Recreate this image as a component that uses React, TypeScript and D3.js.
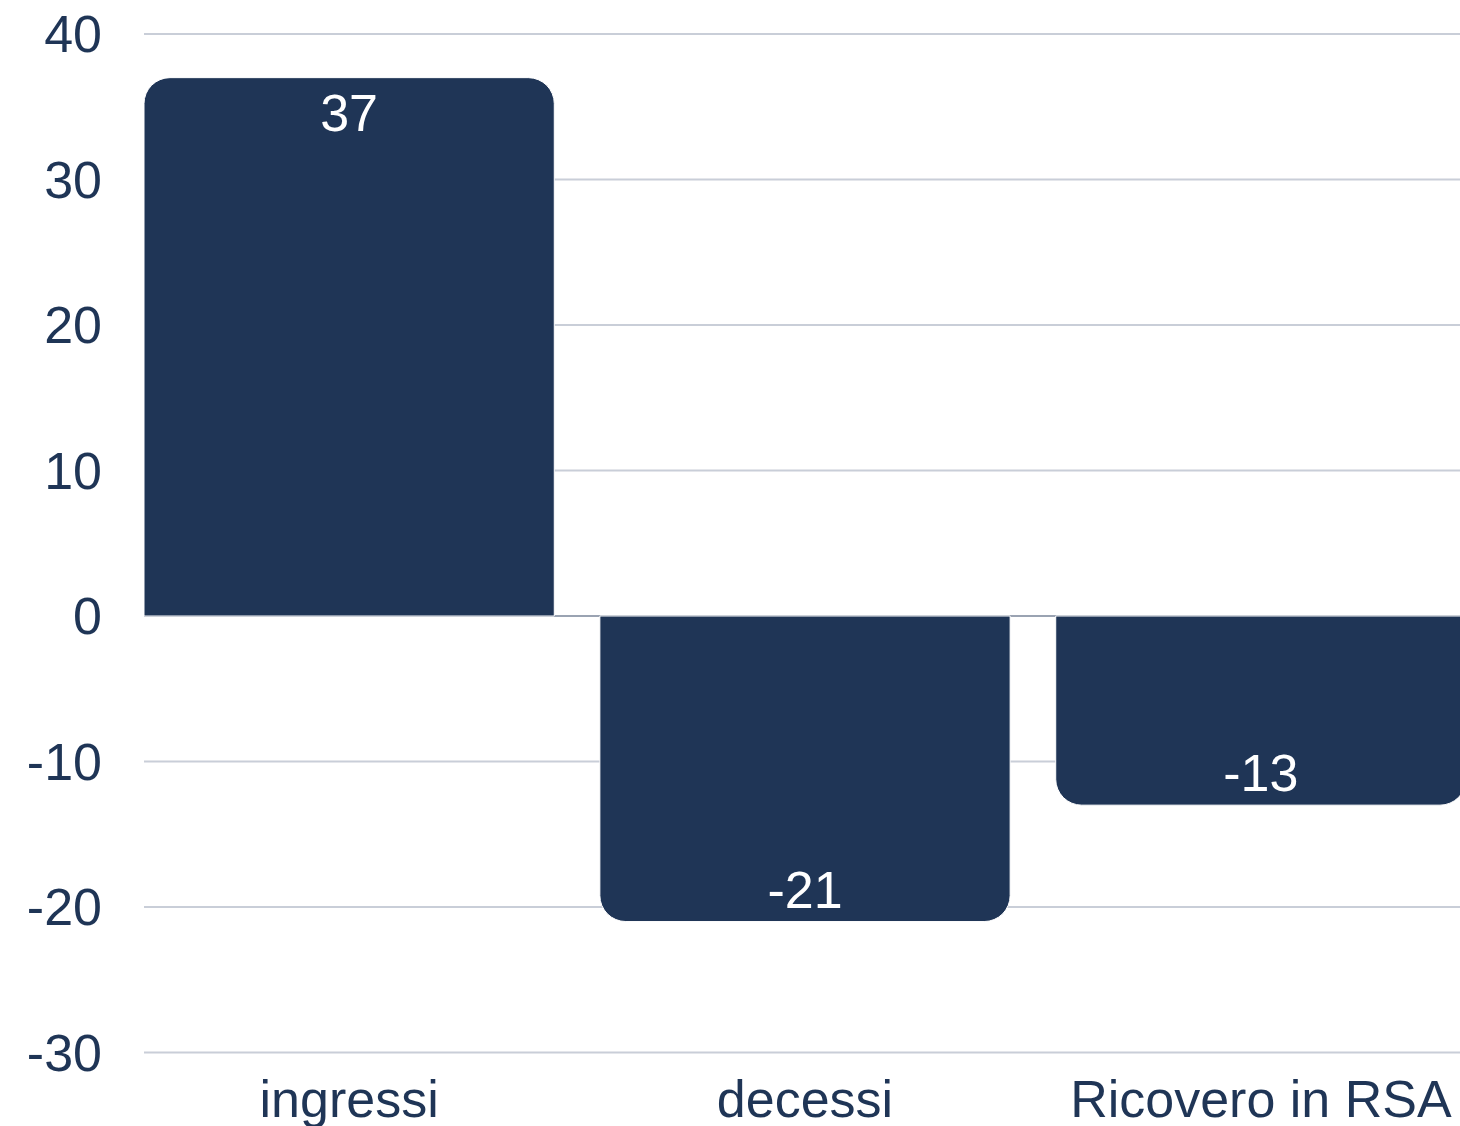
import React from "react";
import * as d3 from "d3";

const categories = ["ingressi", "decessi", "Ricovero in RSA"];
const values = [37, -21, -13];
const yTicks = [40, 30, 20, 10, 0, -10, -20, -30];

const W = 1460;
const H = 1126;
const BAR = "#1f3556";
const TEXT = "#1f3556";
const FONT = "'Liberation Sans', Arial, sans-serif";

function barPath(x: number, w: number, y0: number, y1: number, r: number) {
  if (y1 < y0) {
    return `M${x},${y0} L${x},${y1 + r} A${r},${r} 0 0 1 ${x + r},${y1} L${x + w - r},${y1} A${r},${r} 0 0 1 ${x + w},${y1 + r} L${x + w},${y0} Z`;
  }
  return `M${x},${y0} L${x},${y1 - r} A${r},${r} 0 0 0 ${x + r},${y1} L${x + w - r},${y1} A${r},${r} 0 0 0 ${x + w},${y1 - r} L${x + w},${y0} Z`;
}

export default function App() {
  const y = d3.scaleLinear().domain([-30, 40]).range([1052.5, 34]);
  const x = d3.scaleBand<string>().domain(categories).range([144, 1466]).paddingInner(0.1).paddingOuter(0);
  const bw = x.bandwidth();
  return (
    <svg width={W} height={H} style={{ position: "absolute", left: 0, top: 0, background: "#fff" }} fontFamily={FONT}>
      {yTicks.map((t) => (
        <g key={t}>
          <line x1={144} x2={W} y1={y(t)} y2={y(t)} stroke={t === 0 ? "#9aa3b2" : "#c9ced8"} strokeWidth={2} />
          <text x={102} y={y(t)} dy="0.35em" textAnchor="end" fontSize={52} fill={TEXT}>{t}</text>
        </g>
      ))}
      {categories.map((c, i) => {
        const v = values[i];
        const x0 = x(c)!;
        const y0 = y(0);
        const y1 = y(v);
        const cx = x0 + bw / 2;
        const ly = v >= 0 ? y1 + 53 : y1 - 14;
        return (
          <g key={c}>
            <path d={barPath(x0, bw, y0, y1, 26)} fill={BAR} stroke="#ffffff" strokeWidth={1} />
            <text x={cx} y={ly} textAnchor="middle" fontSize={52} fill="#ffffff">{v}</text>
            <text x={cx} y={1117} textAnchor="middle" fontSize={52} fill={TEXT}>{c}</text>
          </g>
        );
      })}
    </svg>
  );
}
